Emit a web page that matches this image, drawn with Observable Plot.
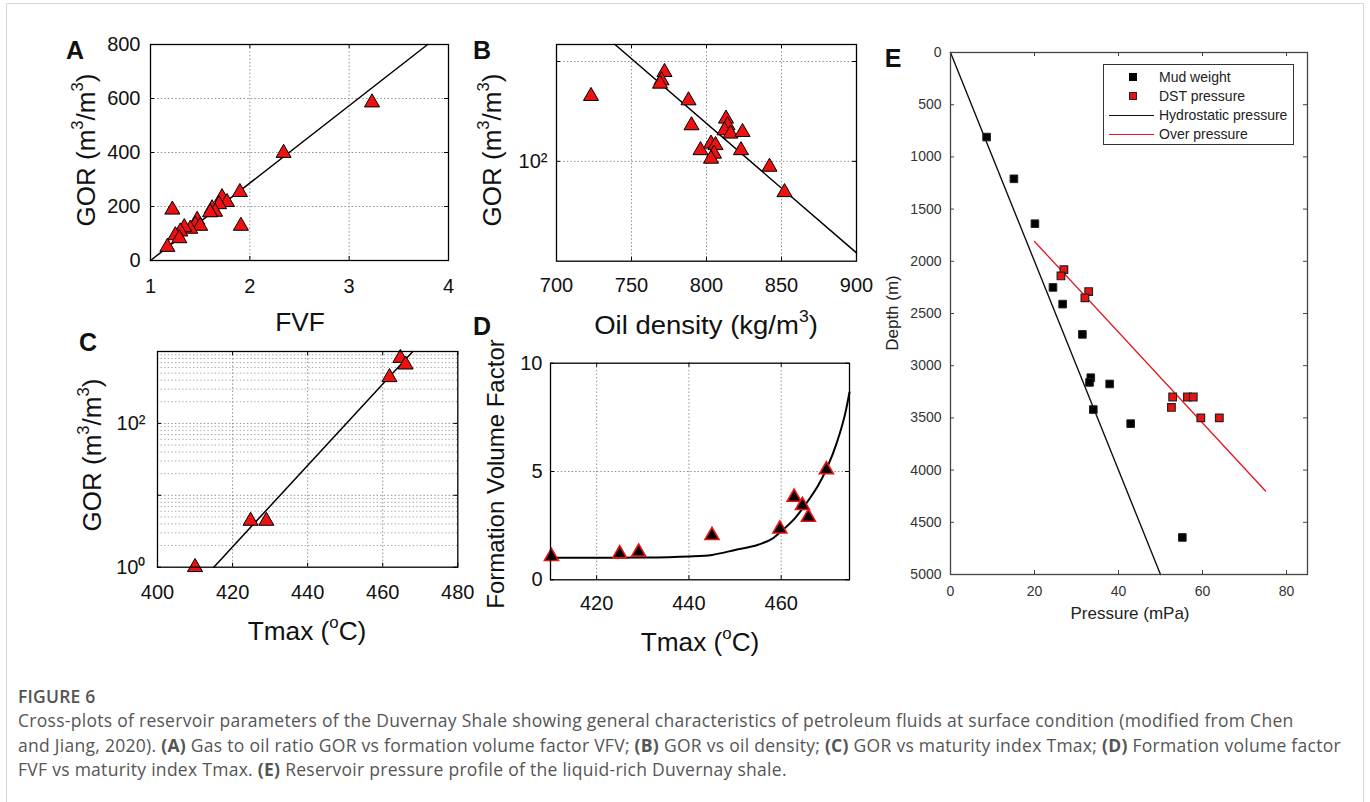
<!DOCTYPE html>
<html>
<head>
<meta charset="utf-8">
<script src="https://cdn.jsdelivr.net/npm/d3@7"></script>
<script src="https://cdn.jsdelivr.net/npm/@observablehq/plot@0.6"></script>
<style>
  html, body { margin: 0; padding: 0; background: #fff; }
  #fig { position: relative; width: 1370px; height: 802px; overflow: hidden; background: #fff;
         font-family: "Liberation Sans", Arial, Helvetica, sans-serif; color: #111; }
  #fig svg { position: absolute; left: 0; top: 0; }
  #border { position: absolute; left: 6px; top: 3px; width: 1358px; height: 840px; border: 1.5px solid #d6d6d6; box-sizing: border-box; }
  .lbl { position: absolute; white-space: nowrap; line-height: 1; }
  .lbl sup { font-size: 64%; position: relative; top: -0.72em; vertical-align: baseline; line-height: 0; }
  .letter { font-weight: bold; }
  #cap { position: absolute; left: 18px; top: 684px; font-family: "Open Sans", "Noto Sans", sans-serif; font-size: 17.5px;
         letter-spacing: 0.28px; line-height: 24.3px; color: #555; white-space: nowrap; }
  #cap .hd { font-weight: 600; letter-spacing: 0.2px; }
  #cap b { font-weight: 700; color: #555; }
  #legE { position: absolute; left: 1103px; top: 64px; width: 191px; height: 81px; border: 1px solid #333; box-sizing: border-box;
          background: #fff; font-size: 14px; color: #222; }
  #legE .row { position: absolute; left: 0; width: 100%; height: 18px; }
  #legE .sw { position: absolute; }
  #legE .tx { position: absolute; left: 55px; top: 0; line-height: 18px; }
</style>
</head>
<body>
<div id="fig">
  <div id="border"></div>
</div>
<script>
// ================= DATA =================
// Panel A: GOR vs FVF
const aFVF = [3.23, 2.34, 1.90, 1.91, 1.22, 1.72, 1.77, 1.69, 1.62, 1.65, 1.60, 1.47, 1.45, 1.50, 1.40, 1.34, 1.30, 1.25, 1.29, 1.17];
const aGOR = [585, 398, 253, 128, 188, 234, 216, 208, 193, 180, 178, 150, 132, 128, 117, 123, 107, 93, 82, 50];
const aFitFVF = [1.0, 3.79];
const aFitGOR = [0, 800];
const aXTicks = [1, 2, 3, 4];
const aYTicks = [0, 200, 400, 600, 800];

// Panel B: GOR vs oil density (log GOR)
const bDensity = [723, 772, 770, 769, 788, 790, 813, 814, 812, 816, 824, 796, 803, 806, 805, 803, 823, 842, 852];
const bGOR = [450, 782, 646, 598, 407, 229, 267, 229, 204, 189, 196, 129, 150, 145, 119, 106, 129, 88, 49];
const bFitDensity = [739, 900];
const bFitGOR = [1480, 12.1];
const bXTicks = [700, 750, 800, 850, 900];
const bYTicks = [100, 1000];
const bYTickLabels = ["10\u00b2", ""];

// Panel C: GOR vs Tmax (log GOR)
const cTmax = [410, 424.8, 429, 461.8, 464.7, 466.1];
const cGOR = [1.0, 4.4, 4.4, 438, 811, 656];
const cFitTmax = [415, 468];
const cFitGOR = [1, 1000];
const cXTicks = [400, 420, 440, 460, 480];
const cYTicks = [1, 10, 100, 1000];
const cYTickLabels = ["10\u2070", "", "10\u00b2", ""];
const cYMinor = [2, 3, 4, 5, 6, 7, 8, 9, 20, 30, 40, 50, 60, 70, 80, 90, 200, 300, 400, 500, 600, 700, 800, 900];

// Panel D: FVF vs Tmax
const dTmax = [410.2, 425, 429.1, 445, 459.7, 462.8, 464.6, 465.9, 469.8];
const dFVF = [1.08, 1.2, 1.28, 2.05, 2.35, 3.81, 3.43, 2.89, 5.08];
const dCurveTmax = [410, 420, 430, 440, 445, 450, 455, 458, 460, 463, 466, 468, 470, 472, 474, 474.8];
const dCurveFVF = [1.02, 1.02, 1.03, 1.08, 1.15, 1.38, 1.62, 1.89, 2.24, 2.85, 3.7, 4.35, 5.2, 6.3, 7.8, 8.66];
const dXTicks = [420, 440, 460];
const dYTicks = [0, 5, 10];

// Panel E: pressure profile
const eMudP = [8.6, 15.1, 20.1, 24.4, 26.7, 31.4, 33.4, 33.1, 37.9, 34.0, 42.9, 55.2];
const eMudD = [810, 1210, 1640, 2250, 2410, 2700, 3115, 3160, 3175, 3420, 3555, 4645];
const eDstP = [27.0, 26.3, 32.9, 32.0, 52.9, 52.6, 56.4, 57.8, 59.6, 64.0];
const eDstD = [2080, 2140, 2290, 2350, 3300, 3400, 3300, 3300, 3500, 3500];
const eHydroP = [0, 50];
const eHydroD = [0, 5000];
const eOverP = [20, 75];
const eOverD = [1810, 4200];
const eXTicks = [0, 20, 40, 60, 80];
const eYTicks = [0, 500, 1000, 1500, 2000, 2500, 3000, 3500, 4000, 4500, 5000];

// ================= HELPERS =================
const FONT = '"Liberation Sans", Arial, Helvetica, sans-serif';
const RED = "#ee1111";
const GRID = "#8c8c8c";
const DASH = "1.4,2.2";
const W = 1370, H = 802;
const zip = (xs, ys) => xs.map((x, i) => ({x, y: ys[i]}));

function boxTicks(xt, yt, f, len, stroke, sw) {
  const fw = W - f.mL - f.mR, fh = H - f.mT - f.mB;
  return [
    Plot.ruleX(xt, {insetTop: fh - len, stroke, strokeWidth: sw}),
    Plot.ruleX(xt, {insetBottom: fh - len, stroke, strokeWidth: sw}),
    Plot.ruleY(yt, {insetRight: fw - len, stroke, strokeWidth: sw}),
    Plot.ruleY(yt, {insetLeft: fw - len, stroke, strokeWidth: sw})
  ];
}

function panel(f, x, y, marks) {
  return Plot.plot({
    width: W, height: H,
    marginLeft: f.mL, marginRight: f.mR, marginTop: f.mT, marginBottom: f.mB,
    x, y,
    style: {background: "transparent", overflow: "visible", fontFamily: FONT, color: "#111"},
    marks
  });
}

const fig = document.getElementById("fig");
function label(html, cx, cy, size, opts = {}) {
  const d = document.createElement("div");
  d.className = "lbl" + (opts.cls ? " " + opts.cls : "");
  d.innerHTML = html;
  d.style.left = cx + "px";
  d.style.top = cy + "px";
  d.style.fontSize = size + "px";
  if (opts.color) d.style.color = opts.color;
  d.style.transform = "translate(-50%,-50%)" + (opts.rotate ? " rotate(-90deg)" : "") + (opts.sx ? ` scaleX(${opts.sx})` : "");
  fig.appendChild(d);
}

// ================= PANEL A =================
const fA = {mL: 150, mT: 44, mR: W - 448, mB: H - 260};
fig.appendChild(panel(fA,
  {domain: [1, 4]},
  {domain: [0, 800]},
  [
    Plot.ruleX([2, 3], {stroke: GRID, strokeDasharray: DASH}),
    Plot.ruleY([200, 400, 600], {stroke: GRID, strokeDasharray: DASH}),
    ...boxTicks(aXTicks, aYTicks, fA, 4, "#000", 1),
    Plot.line(zip(aFitFVF, aFitGOR), {x: "x", y: "y", stroke: "#000", strokeWidth: 1.5}),
    Plot.dot(zip(aFVF, aGOR), {x: "x", y: "y", symbol: "triangle", r: 5.6, fill: RED, stroke: "#000", strokeWidth: 1}),
    Plot.frame({stroke: "#000", strokeWidth: 1.3}),
    Plot.axisX(aXTicks, {tickSize: 0, tickPadding: 18, fontSize: 20, label: null, fill: "#111"}),
    Plot.axisY(aYTicks, {tickSize: 0, tickPadding: 10, fontSize: 20, label: null, fill: "#111"})
  ]));

// ================= PANEL B =================
const fB = {mL: 556, mT: 44, mR: W - 856, mB: H - 260.7};
fig.appendChild(panel(fB,
  {domain: [700, 900]},
  {type: "log", domain: [10, 1480]},
  [
    Plot.ruleX([750, 800, 850], {stroke: GRID, strokeDasharray: DASH}),
    Plot.ruleY(bYTicks, {stroke: GRID, strokeDasharray: DASH}),
    ...boxTicks(bXTicks, bYTicks, fB, 4, "#000", 1),
    Plot.line(zip(bFitDensity, bFitGOR), {x: "x", y: "y", stroke: "#000", strokeWidth: 1.5}),
    Plot.dot(zip(bDensity, bGOR), {x: "x", y: "y", symbol: "triangle", r: 5.6, fill: RED, stroke: "#000", strokeWidth: 1}),
    Plot.frame({stroke: "#000", strokeWidth: 1.3}),
    Plot.axisX(bXTicks, {tickSize: 0, tickPadding: 17, fontSize: 20, label: null, fill: "#111"}),
    Plot.axisY(bYTicks, {tickSize: 0, tickPadding: 9, fontSize: 20, label: null, fill: "#111",
      tickFormat: d => bYTickLabels[bYTicks.indexOf(d)]})
  ]));

// ================= PANEL C =================
const fC = {mL: 157, mT: 351, mR: W - 457.3, mB: H - 566.7};
fig.appendChild(panel(fC,
  {domain: [400, 480]},
  {type: "log", domain: [1, 1000]},
  [
    Plot.ruleX([420, 440, 460], {stroke: GRID, strokeDasharray: DASH}),
    Plot.ruleY(cYMinor, {stroke: "#a8a8a8", strokeDasharray: DASH}),
    Plot.ruleY([10, 100], {stroke: GRID, strokeDasharray: DASH}),
    ...boxTicks(cXTicks, cYTicks, fC, 4, "#000", 1),
    Plot.line(zip(cFitTmax, cFitGOR), {x: "x", y: "y", stroke: "#000", strokeWidth: 1.5}),
    Plot.dot(zip(cTmax, cGOR), {x: "x", y: "y", symbol: "triangle", r: 5.6, fill: RED, stroke: "#000", strokeWidth: 1}),
    Plot.frame({stroke: "#000", strokeWidth: 1.3}),
    Plot.axisX(cXTicks, {tickSize: 0, tickPadding: 18, fontSize: 20, label: null, fill: "#111"}),
    Plot.axisY(cYTicks, {tickSize: 0, tickPadding: 12, fontSize: 20, label: null, fill: "#111",
      tickFormat: d => cYTickLabels[cYTicks.indexOf(d)]})
  ]));

// ================= PANEL D =================
const fD = {mL: 550, mT: 362.7, mR: W - 849, mB: H - 579.3};
fig.appendChild(panel(fD,
  {domain: [410, 474.8]},
  {domain: [0, 10]},
  [
    Plot.ruleX(dXTicks, {stroke: GRID, strokeDasharray: DASH}),
    Plot.ruleY([5], {stroke: GRID, strokeDasharray: DASH}),
    ...boxTicks(dXTicks, dYTicks, fD, 4, "#000", 1),
    Plot.line(zip(dCurveTmax, dCurveFVF), {x: "x", y: "y", stroke: "#000", strokeWidth: 2, curve: "monotone-x"}),
    Plot.dot(zip(dTmax, dFVF), {x: "x", y: "y", symbol: "triangle", r: 5.2, fill: "#000", stroke: RED, strokeWidth: 1.6}),
    Plot.frame({stroke: "#000", strokeWidth: 1.3}),
    Plot.axisX(dXTicks, {tickSize: 0, tickPadding: 16, fontSize: 20, label: null, fill: "#111"}),
    Plot.axisY(dYTicks, {tickSize: 0, tickPadding: 8, fontSize: 20, label: null, fill: "#111"})
  ]));

// ================= PANEL E =================
const fE = {mL: 950, mT: 52, mR: W - 1307, mB: H - 574};
fig.appendChild(panel(fE,
  {domain: [0, 85]},
  {domain: [0, 5000], reverse: true},
  [
    ...boxTicks(eXTicks, eYTicks, fE, 4, "#444", 1),
    Plot.line(zip(eHydroP, eHydroD), {x: "x", y: "y", stroke: "#111", strokeWidth: 1.4}),
    Plot.line(zip(eOverP, eOverD), {x: "x", y: "y", stroke: "#e8141c", strokeWidth: 1.3}),
    Plot.dot(zip(eMudP, eMudD), {x: "x", y: "y", symbol: "square", r: 4.3, fill: "#000", stroke: "#222", strokeWidth: 1}),
    Plot.dot(zip(eDstP, eDstD), {x: "x", y: "y", symbol: "square", r: 4.3, fill: "#ee1111", stroke: "#222", strokeWidth: 1.2}),
    Plot.frame({stroke: "#444", strokeWidth: 1.3}),
    Plot.axisX(eXTicks, {tickSize: 0, tickPadding: 12, fontSize: 14, label: null, fill: "#333", tickFormat: d => String(d)}),
    Plot.axisY(eYTicks, {tickSize: 0, tickPadding: 9, fontSize: 14, label: null, fill: "#333", tickFormat: d => String(d)})
  ]));

// ================= TEXT =================
label("A", 75, 50, 25, {cls: "letter"});
label("B", 482, 50, 25, {cls: "letter"});
label("C", 88, 342, 25, {cls: "letter"});
label("D", 482, 326, 25, {cls: "letter"});
label("E", 893, 58, 25, {cls: "letter"});

label("GOR (m<sup>3</sup>/m<sup>3</sup>)", 86, 150, 26, {rotate: true});
label("FVF", 300, 322, 25, {sx: 1.05});
label("GOR (m<sup>3</sup>/m<sup>3</sup>)", 492, 150, 26, {rotate: true});
label("Oil density (kg/m<sup>3</sup>)", 706, 325, 25, {sx: 1.1});
label("GOR (m<sup>3</sup>/m<sup>3</sup>)", 92, 455, 26, {rotate: true});
label("Tmax (<sup>o</sup>C)", 307, 631, 25, {sx: 1.05});
label("Formation Volume Factor", 496, 474, 24, {rotate: true});
label("Tmax (<sup>o</sup>C)", 700, 642, 25, {sx: 1.05});
label("Depth (m)", 892, 313, 17, {rotate: true, color: "#222"});
label("Pressure (mPa)", 1130, 613, 17, {color: "#222"});

// legend for panel E
const leg = document.createElement("div");
leg.id = "legE";
leg.innerHTML = `
  <div class="row" style="top:3px"><div class="sw" style="left:25px;top:5px;width:8px;height:8px;background:#000"></div><div class="tx">Mud weight</div></div>
  <div class="row" style="top:22px"><div class="sw" style="left:25px;top:5px;width:6px;height:6px;background:#ee1111;border:1px solid #222"></div><div class="tx">DST pressure</div></div>
  <div class="row" style="top:41px"><div class="sw" style="left:5px;top:9px;width:45px;height:0;border-top:1.3px solid #111"></div><div class="tx">Hydrostatic pressure</div></div>
  <div class="row" style="top:60px"><div class="sw" style="left:5px;top:9px;width:45px;height:0;border-top:1.3px solid #e8141c"></div><div class="tx">Over pressure</div></div>`;
fig.appendChild(leg);

// caption
const cap = document.createElement("div");
cap.id = "cap";
cap.innerHTML = `<div class="hd">FIGURE 6</div>` +
  `Cross-plots of reservoir parameters of the Duvernay Shale showing general characteristics of petroleum fluids at surface condition (modified from Chen<br>` +
  `and Jiang, 2020). <b>(A)</b> Gas to oil ratio GOR vs formation volume factor VFV; <b>(B)</b> GOR vs oil density; <b>(C)</b> GOR vs maturity index Tmax; <b>(D)</b> Formation volume factor<br>` +
  `FVF vs maturity index Tmax. <b>(E)</b> Reservoir pressure profile of the liquid-rich Duvernay shale.`;
fig.appendChild(cap);
</script>
</body>
</html>
